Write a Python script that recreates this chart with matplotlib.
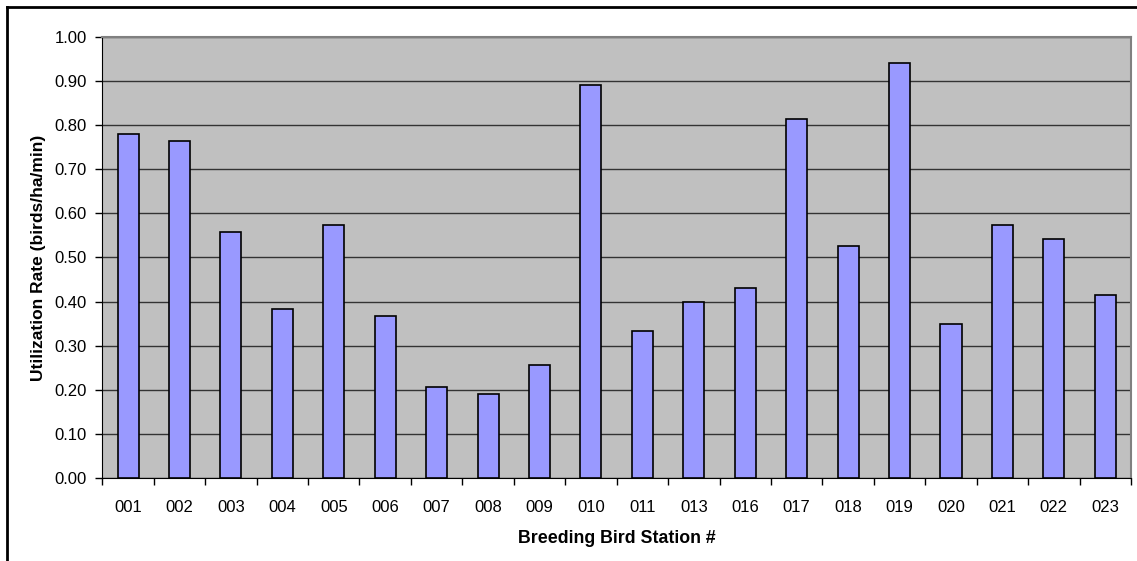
import matplotlib
matplotlib.use("Agg")
import matplotlib.pyplot as plt
from matplotlib.lines import Line2D

stations = ["001", "002", "003", "004", "005", "006", "007", "008", "009", "010",
            "011", "013", "016", "017", "018", "019", "020", "021", "022", "023"]
rates = [0.780, 0.764, 0.559, 0.384, 0.573, 0.368, 0.206, 0.190, 0.256, 0.892,
         0.334, 0.400, 0.430, 0.814, 0.527, 0.942, 0.350, 0.574, 0.543, 0.414]
yticks = [0.0, 0.1, 0.2, 0.3, 0.4, 0.5, 0.6, 0.7, 0.8, 0.9, 1.0]

plt.rcParams["font.family"] = ["Liberation Sans", "DejaVu Sans"]
plt.rcParams["font.size"] = 12

fig = plt.figure(figsize=(11.37, 5.61), dpi=100)
ax = fig.add_axes([0.090, 0.1485, 0.9047, 0.785])

# chart frame (top and left edges only)
fig.add_artist(Line2D([0.0062, 1.0], [0.9875, 0.9875], color="black", lw=2, transform=fig.transFigure))
fig.add_artist(Line2D([0.0062, 0.0062], [0.0, 0.9875], color="black", lw=2, transform=fig.transFigure))

ax.set_facecolor("#C0C0C0")
x = list(range(len(stations)))
ax.bar(x, rates, width=0.41, color="#9999FF", edgecolor="black", linewidth=1.2, zorder=3)

ax.set_xlim(-0.5, len(stations) - 0.5)
ax.set_ylim(0, 1.0)
ax.set_yticks(yticks)
ax.set_yticklabels(["%.2f" % v for v in yticks])
ax.yaxis.grid(True, color="#333333", linewidth=1.0, zorder=1)
ax.set_axisbelow(True)

# ticks between categories, labels at centres
ax.set_xticks([i - 0.5 for i in range(len(stations) + 1)])
ax.set_xticklabels([])
ax.set_xticks(x, minor=True)
ax.set_xticklabels(stations, minor=True)
ax.tick_params(axis="x", which="minor", length=0, pad=16)
ax.tick_params(axis="x", which="major", length=5, width=1, color="black")
ax.tick_params(axis="y", length=5, width=1, pad=6)

for side in ["top", "right"]:
    ax.spines[side].set_color("#808080")
    ax.spines[side].set_linewidth(1.5)
ax.spines["left"].set_color("black")
ax.spines["bottom"].set_color("black")

ax.set_xlabel("Breeding Bird Station #", fontweight="bold", fontsize=12.8, labelpad=11)
ax.set_ylabel("Utilization Rate (birds/ha/min)", fontweight="bold", fontsize=12.5, labelpad=6)

fig.savefig("out.png", dpi=100)
